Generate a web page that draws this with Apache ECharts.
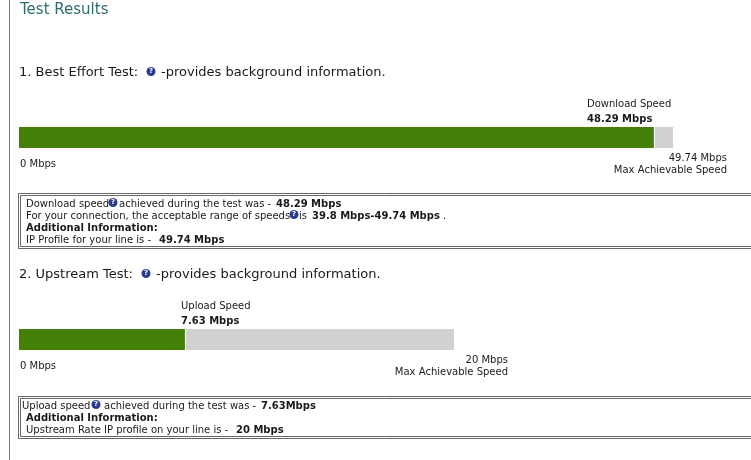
<!DOCTYPE html>
<html>
<head>
<meta charset="utf-8">
<style>html,body{margin:0;padding:0;background:#fff}#c{width:751px;height:460px}</style>
<script src="https://cdn.jsdelivr.net/npm/echarts@6/dist/echarts.min.js"></script>
</head>
<body>
<div id="c"></div>
<script>
var tests = ['Best Effort Test', 'Upstream Test'];
var achieved = [48.29, 7.63];
var maxSpeed = [49.74, 20];
var remaining = [maxSpeed[0] - achieved[0], maxSpeed[1] - achieved[1]];
var speedNames = ['Download Speed', 'Upload Speed'];
var acceptableRange = '39.8 Mbps-49.74 Mbps';

var FONT = '"DejaVu Sans", Verdana, sans-serif';
var green = '#448008', gray = '#d1d1d1', ink = '#1a1a1a';
var g = [];
function t(x, y, text, o) {
  o = o || {};
  g.push({ type: 'text', x: x, y: y + 1, silent: true, z: 10, style: {
    text: text, fill: o.c || ink, align: o.a || 'left', verticalAlign: 'middle',
    font: (o.b ? 'bold ' : '') + (o.s || 10) + 'px ' + FONT } });
}
function icon(x, y) {
  g.push({ type: 'circle', silent: true, z: 10, shape: { cx: x, cy: y, r: 4.5 }, style: { fill: '#2c3a8c' } });
  g.push({ type: 'text', x: x, y: y, silent: true, z: 11, style: { text: '?', fill: '#fff', align: 'center', verticalAlign: 'middle', font: 'bold 7px ' + FONT } });
}
function box(x, y, h) {
  [[0, 0], [2, 2]].forEach(function (d) {
    g.push({ type: 'rect', silent: true, shape: { x: x + d[0] + .5, y: y + d[1] + .5, width: 760, height: h - 2 * d[1] },
      style: { fill: 'none', stroke: '#666', lineWidth: 1 } });
  });
}
g.push({ type: 'line', silent: true, shape: { x1: 9.5, y1: 0, x2: 9.5, y2: 460 }, style: { stroke: '#777', lineWidth: 1 } });

t(20, 9, 'Test Results', { s: 15, c: '#2e6b6b' });

t(19, 72, '1. ' + tests[0] + ':', { s: 13 });
icon(151, 71.5);
t(161, 72, '-provides background information.', { s: 13 });
t(587, 103, speedNames[0]);
t(587, 118, achieved[0] + ' Mbps', { b: 1 });
t(20, 163, '0 Mbps');
t(727, 157, maxSpeed[0] + ' Mbps', { a: 'right' });
t(727, 169, 'Max Achievable Speed', { a: 'right' });

box(18, 193, 55);
t(26, 203, 'Download speed');
icon(113, 202.5);
t(119, 203, 'achieved during the test was - ');
t(276, 203, achieved[0] + ' Mbps', { b: 1 });
t(26, 215, 'For your connection, the acceptable range of speeds');
icon(294, 214.5);
t(299, 215, 'is');
t(312, 215, acceptableRange, { b: 1 });
t(443, 215, '.');
t(26, 227, 'Additional Information:', { b: 1 });
t(26, 239, 'IP Profile for your line is - ');
t(159, 239, maxSpeed[0] + ' Mbps', { b: 1 });

t(19, 274, '2. ' + tests[1] + ':', { s: 13 });
icon(146, 273.5);
t(156, 274, '-provides background information.', { s: 13 });
t(181, 305, speedNames[1]);
t(181, 320, achieved[1] + ' Mbps', { b: 1 });
t(20, 365, '0 Mbps');
t(508, 359, maxSpeed[1] + ' Mbps', { a: 'right' });
t(508, 371, 'Max Achievable Speed', { a: 'right' });

box(18, 396, 42);
t(22, 405, 'Upload speed');
icon(96, 404.5);
t(104, 405, 'achieved during the test was - ');
t(261, 405, achieved[1] + 'Mbps', { b: 1 });
t(26, 417, 'Additional Information:', { b: 1 });
t(26, 429, 'Upstream Rate IP profile on your line is - ');
t(236, 429, maxSpeed[1] + ' Mbps', { b: 1 });

function pair(i) {
  var common = { type: 'bar', stack: 's' + i, xAxisIndex: i, yAxisIndex: i, barWidth: 21, silent: true };
  return [
    Object.assign({}, common, { name: 'Achieved', data: [achieved[i]], itemStyle: { color: green },
      z: 2 }),
    Object.assign({}, common, { name: 'Remaining', data: [remaining[i]], itemStyle: { color: gray }, z: 2,
      markLine: { silent: true, symbol: 'none', animation: false, label: { show: false },
        lineStyle: { color: '#fff', width: 1, type: 'solid' }, data: [{ xAxis: achieved[i] }] } })
  ];
}
function xA(i) { return { type: 'value', gridIndex: i, min: 0, max: maxSpeed[i], show: false }; }
function yA(i) { return { type: 'category', gridIndex: i, data: [tests[i]], show: false }; }

var chart = echarts.init(document.getElementById('c'), null, { renderer: 'canvas' });
chart.setOption({
  animation: false,
  backgroundColor: '#fff',
  grid: [
    { left: 19, top: 127, width: 654, height: 21 },
    { left: 19, top: 329, width: 435, height: 21 }
  ],
  xAxis: [xA(0), xA(1)],
  yAxis: [yA(0), yA(1)],
  series: pair(0).concat(pair(1)),
  graphic: g
});
</script>
</body>
</html>
